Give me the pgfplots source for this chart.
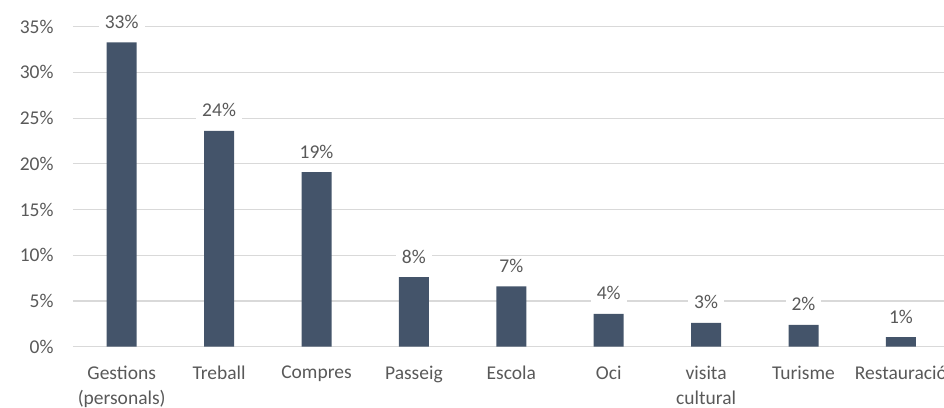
\documentclass[border=0pt]{standalone}
\usepackage{pgfplots}
\pgfplotsset{compat=1.18}
\usepackage{fontspec}
\setmainfont{Carlito}
\definecolor{barc}{HTML}{44546A}
\definecolor{txt}{HTML}{595959}
\definecolor{grd}{HTML}{D9D9D9}
\newcommand{\cf}{\fontsize{19.5}{25}\selectfont}
\begin{document}
\begin{tikzpicture}
\begin{axis}[
  scale only axis,
  width=876.6pt, height=320pt,
  xmin=-0.5, xmax=8.5, ymin=0, ymax=35,
  ybar, bar width=30pt,
  axis line style={draw=none},
  major tick length=0pt,
  ymajorgrids, grid style={grd, line width=1.1pt},
  ytick={0,5,...,35},
  yticklabel={\pgfmathprintnumber{\tick}\%},
  /pgf/number format/assume math mode=true,
  xtick=data,
  xticklabels={Gestions\\(personals),Treball,Compres,Passeig,Escola,Oci,visita\\cultural,Turisme,Restauració},
  font=\cf,
  every tick label/.append style={text=txt, font=\cf},
  xticklabel style={align=center, yshift=-16pt},
  yticklabel style={xshift=-16pt},
  nodes near coords={\pgfmathprintnumber[fixed,precision=0]{\pgfplotspointmeta}\%},
  every node near coord/.append style={anchor=base, yshift=14pt, fill=white, inner xsep=6pt, text=txt, font=\cf},
  clip=false,
]
\addplot[fill=barc, draw=none] coordinates {
  (0,33.29) (1,23.6) (2,19.1) (3,7.6) (4,6.6) (5,3.6) (6,2.6) (7,2.4) (8,1.05)};
\coordinate (O) at (rel axis cs:0,0);
\end{axis}
\pgfresetboundingbox
\path (O) ++(-73pt,-60.3pt) rectangle ++(944pt,407pt);
\end{tikzpicture}
\end{document}
